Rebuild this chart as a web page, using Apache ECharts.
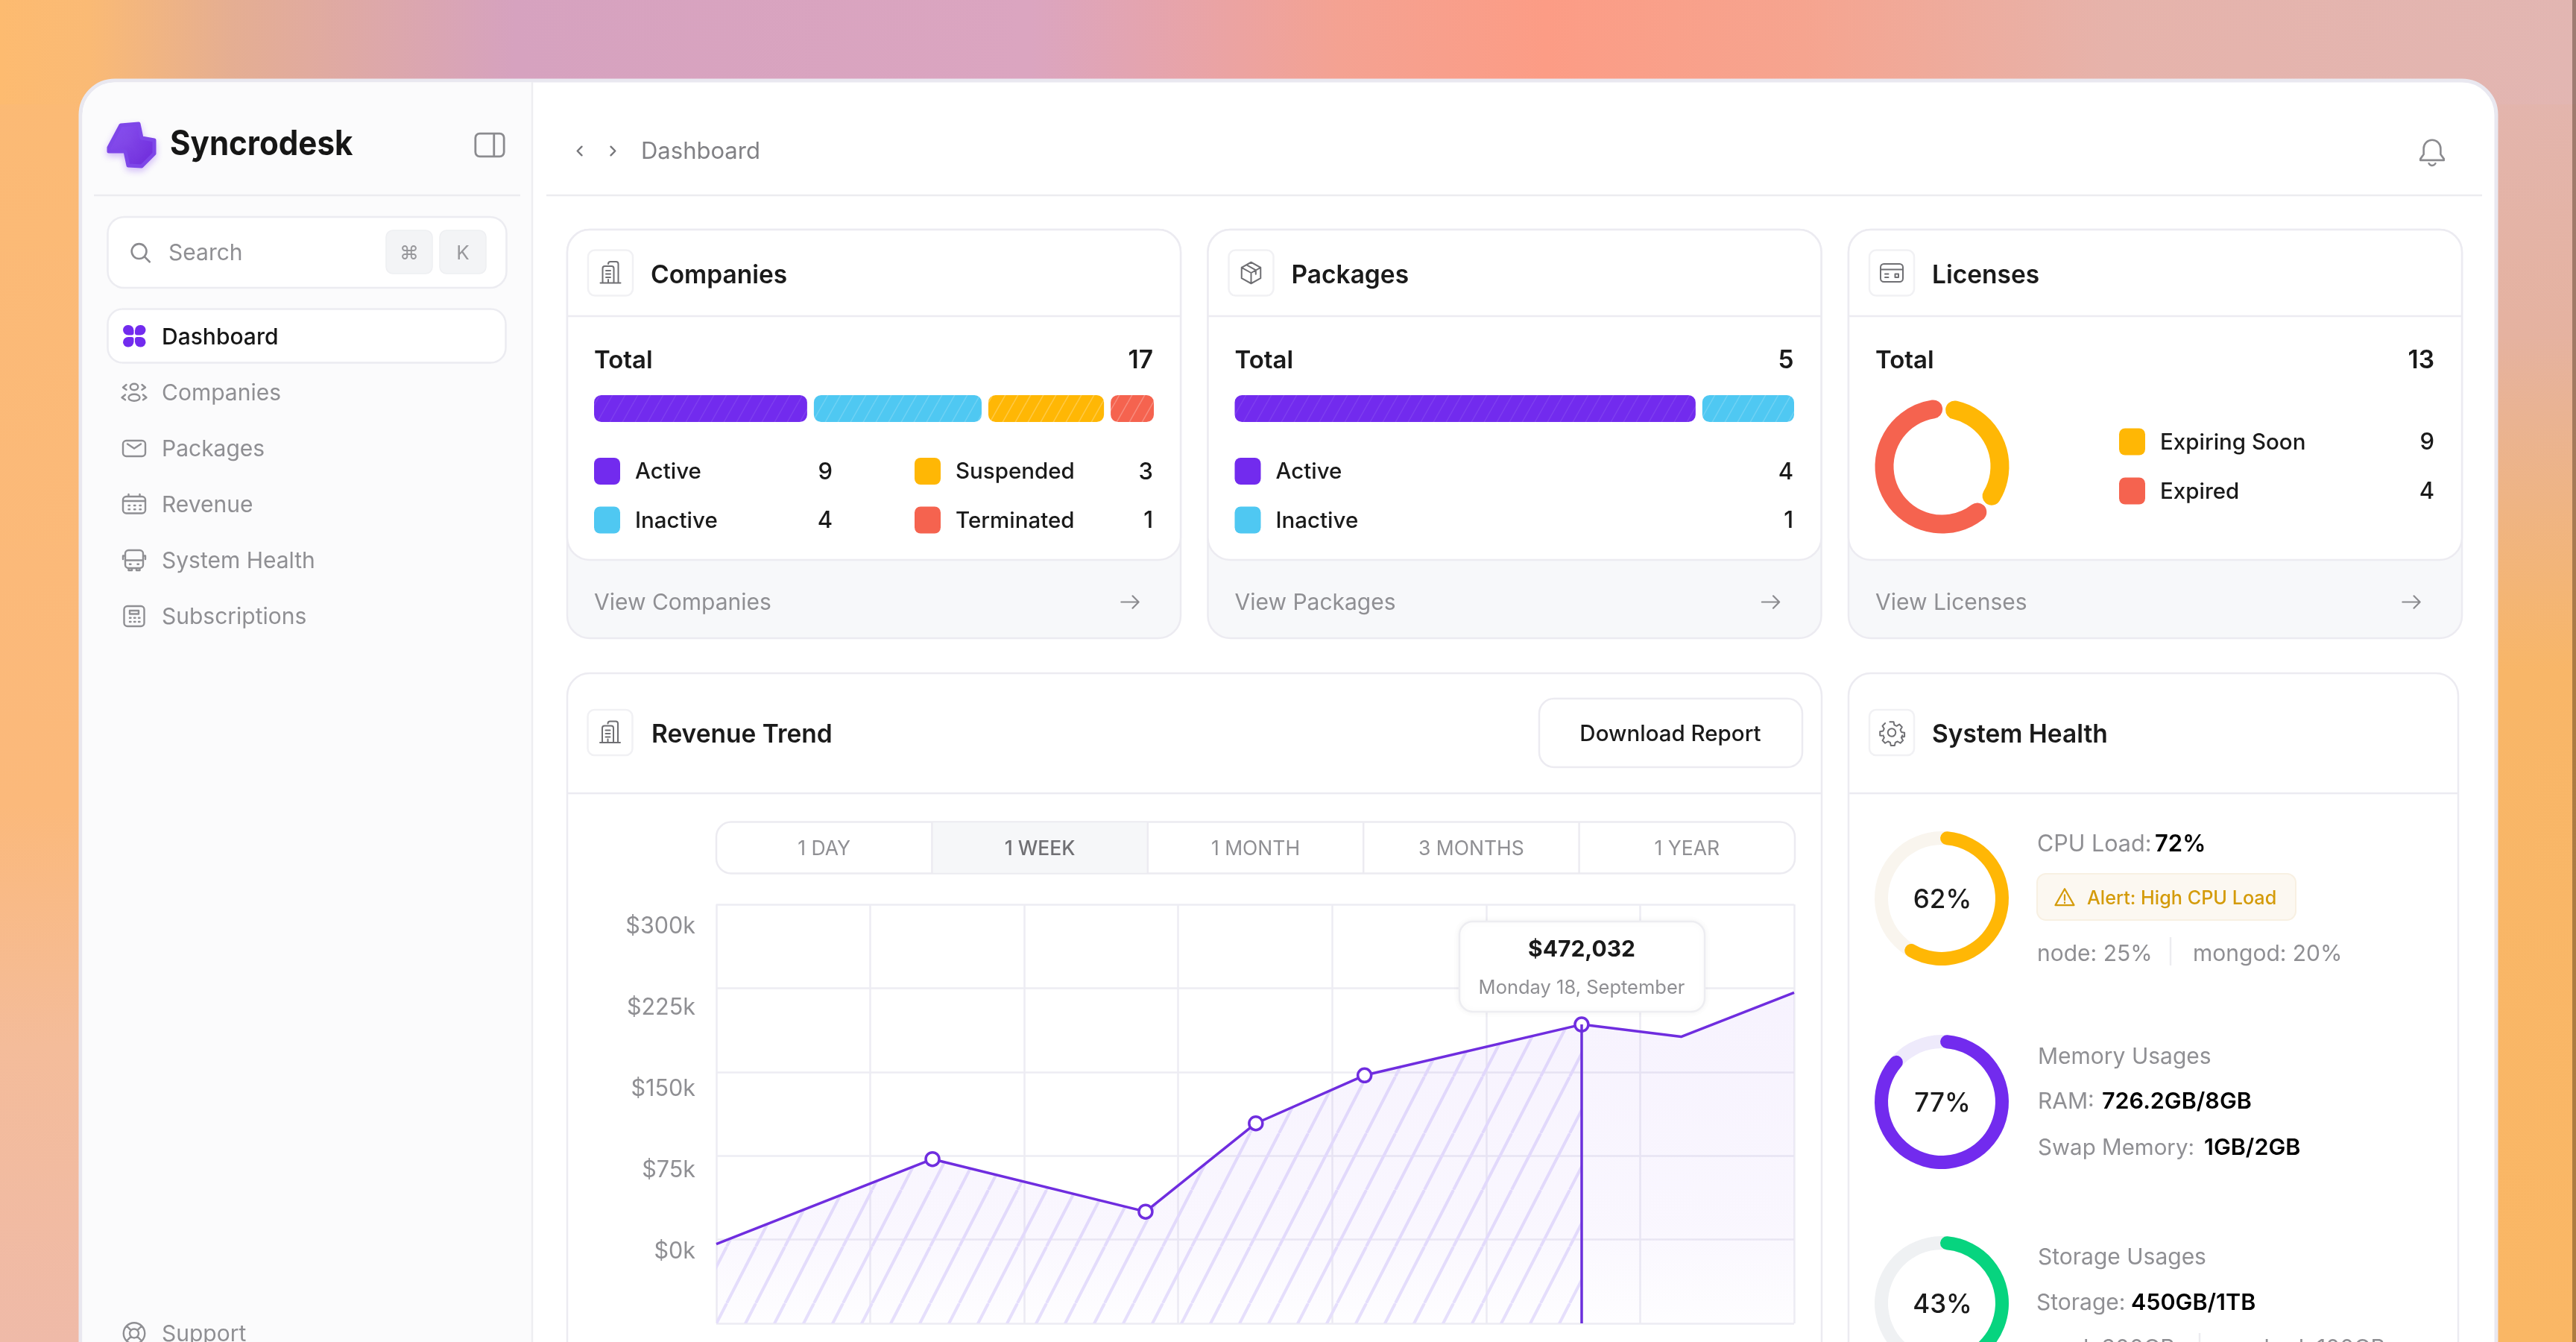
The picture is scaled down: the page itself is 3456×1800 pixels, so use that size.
<!DOCTYPE html>
<html lang="en">
<head>
    <meta charset="UTF-8">
    <title>Syncrodesk</title>
    <style>
        html, body { margin: 0; padding: 0; background: #fff; overflow: hidden; }
        #main { width: 3456px; height: 1800px; }
    </style>
    <script src="https://cdn.jsdelivr.net/npm/echarts@6/dist/echarts.min.js"></script>
</head>
<body>
    <div id="main"></div>
    <script>
    // sidebar and header
    var navItems = ['Dashboard', 'Companies', 'Packages', 'Revenue', 'System Health', 'Subscriptions'];
    var tabLabels = ['1 DAY', '1 WEEK', '1 MONTH', '3 MONTHS', '1 YEAR'];

    // cards
    var companyCats = ['Active', 'Inactive', 'Suspended', 'Terminated'];
    var companyCounts = [9, 4, 3, 1];
    var companyBar = [38.8, 30.8, 21.6, 8.8];   // widths as drawn, in % of the track
    var packageCats = ['Active', 'Inactive'];
    var packageCounts = [4, 1];
    var packageBar = [82.6, 17.4];
    var licenseCats = ['Expiring Soon', 'Expired'];
    var licenseCounts = [9, 4];
    var licenseArc = [36, 64];

    // revenue chart
    var yTickLabels = ['$0k', '$75k', '$150k', '$225k', '$300k'];
    var revenueX = [0, 1.404, 2.788, 3.504, 4.21, 5.62, 6.266, 7];
    var revenueY = [-4, 72, 25, 104, 147, 192.5, 181.5, 221];
    var revenueMarked = [0, 1, 1, 1, 1, 1, 0, 0];
    var hatchUntil = 6;

    // system health gauges, arcs as drawn
    var gaugeLabels = ['62%', '77%', '43%'];
    var gaugeArcs = [57, 85, 43];

    var PURPLE = '#722BEE', CYAN = '#4FC8F2', YELLOW = '#FFB705', RED = '#F5634F', GREEN = '#07D47F';
    var INK = '#1a1a1a', GRAY = '#8f8f93', LINE = '#ECEBF1';
    var FONT = "Inter, 'DejaVu Sans', sans-serif";

    var icons = {
        search: 'M11 4a7 7 0 1 0 0 14a7 7 0 1 0 0-14M16.2 16.2L21 21',
        panel: 'M5 4h14a3 3 0 0 1 3 3v10a3 3 0 0 1-3 3H5a3 3 0 0 1-3-3V7a3 3 0 0 1 3-3zM15 4v16',
        users: 'M8.5 7a3.5 2.8 0 1 0 7 0a3.5 2.8 0 1 0-7 0M7 16.5a5 3 0 1 0 10 0a5 3 0 1 0-10 0M5 5L2 7.5L5 9.5M19 5L22 7.5L19 9.5M4 14L1 16.5L4 18.5M20 14L23 16.5L20 18.5',
        mail: 'M5 5h14a3 3 0 0 1 3 3v8a3 3 0 0 1-3 3H5a3 3 0 0 1-3-3V8a3 3 0 0 1 3-3zM6 8l6 4l6-4',
        calendar: 'M5 5h14a3 3 0 0 1 3 3v9a3 3 0 0 1-3 3H5a3 3 0 0 1-3-3V8a3 3 0 0 1 3-3zM2 9h20M7 3v2M17 3v2M7 13h1M12 13h1M17 13h1M7 16.5h1M12 16.5h1M17 16.5h1',
        bus: 'M7 3h10a3 3 0 0 1 3 3v10a3 3 0 0 1-3 3H7a3 3 0 0 1-3-3V6a3 3 0 0 1 3-3zM4 12h16M4 8H2v3M20 8h2v3M7 19v2h3v-2M14 19v2h3v-2M8 15.5h1M15 15.5h1',
        calc: 'M6 3h12a3 3 0 0 1 3 3v12a3 3 0 0 1-3 3H6a3 3 0 0 1-3-3V6a3 3 0 0 1 3-3zM8 7h8v3H8zM8 13.5h1M12 13.5h1M16 13.5h1M8 17h1M12 17h1M16 17h1',
        support: 'M12 2.5a9.5 9.5 0 1 0 .01 0zM12 8a4 4 0 1 0 .01 0zM5.5 5.5l3.7 3.7M18.5 5.5l-3.7 3.7M5.5 18.5l3.7-3.7M18.5 18.5l-3.7-3.7',
        building: 'M3 21h18M5 21V8a2 2 0 0 1 2-2h6a2 2 0 0 1 2 2v13M10 4a2 2 0 0 1 2-2h5a2 2 0 0 1 2 2v17M8 10h4M8 13h4M8 16h4M10 21v-3',
        box: 'M12 2.5l8.5 4.7v9.6L12 21.5l-8.5-4.7V7.2zM3.5 7.2l8.5 4.8l8.5-4.8M12 12v9.5M7.7 4.8l8.5 4.8v3.5',
        card: 'M5 4h14a3 3 0 0 1 3 3v10a3 3 0 0 1-3 3H5a3 3 0 0 1-3-3V7a3 3 0 0 1 3-3zM2 9h20M6 13h3M6 16h3M15 13h3v3h-3z',
        gear: 'M10.3 2.5h3.4l.6 2.8l2 .9l2.5-1.5l2.4 2.4l-1.5 2.5l.9 2l2.8.6v3.4l-2.8.6M12 8.5a3.5 3.5 0 1 0 .01 0zM3.1 14.9l-1.6-.3v-3.4l2.8-.6l.9-2l-1.5-2.5l2.4-2.4M21.5 14.6l-.9 2l1.5 2.5l-2.4 2.4l-2.5-1.5l-2 .9l-.6 2.8h-3.4l-.6-2.8l-2-.9l-2.5 1.5l-2.4-2.4l1.5-2.5l-.9-2',
        bell: 'M12 3a6.5 6.5 0 0 0-6.5 6.5v4.5L3 17.5v1h18v-1L18.5 14V9.5A6.5 6.5 0 0 0 12 3zM9.5 21a2.8 2.8 0 0 0 5 0',
        warn: 'M12 3L22 20.5H2zM12 9.5v5.5M12 17.5v.6',
        left: 'M15 5l-7 7l7 7',
        right: 'M9 5l7 7l-7 7',
        arrow: 'M2 12h20M15 5l7 7l-7 7'
    };
    Object.keys(icons).forEach(function (k) {
        echarts.graphic.registerShape('ic_' + k, echarts.graphic.extendPath(icons[k], {}));
    });

    // striped tile used as a fill, w/h give the slope of the stripes
    function hatch(base, stripe, w, h, lw) {
        var c = document.createElement('canvas');
        c.width = w;
        c.height = h;
        var ctx = c.getContext('2d');
        if (base) {
            ctx.fillStyle = base;
            ctx.fillRect(0, 0, w, h);
        }
        ctx.strokeStyle = stripe;
        ctx.lineWidth = lw;
        [-w, 0, w].forEach(function (dx) {
            ctx.beginPath();
            ctx.moveTo(dx, h);
            ctx.lineTo(dx + w, 0);
            ctx.stroke();
        });
        return { image: c, repeat: 'repeat' };
    }

    function vgrad(stops) {
        return { type: 'linear', x: 0, y: 0, x2: 0, y2: 1, colorStops: stops };
    }
    function hgrad(stops) {
        return { type: 'linear', x: 0, y: 0, x2: 1, y2: 0, colorStops: stops };
    }

    var els = [];

    function box(x, y, w, h, r, fill, stroke, lw, z) {
        els.push({
            type: 'rect', z: z || -5, silent: true,
            shape: { x: x, y: y, width: w, height: h, r: r },
            style: { fill: fill, stroke: stroke || null, lineWidth: lw || 0 }
        });
    }
    function line(x1, y1, x2, y2, color, lw, z) {
        els.push({
            type: 'line', z: z || -4, silent: true,
            shape: { x1: x1, y1: y1, x2: x2, y2: y2 },
            style: { stroke: color || LINE, lineWidth: lw || 2.5 }
        });
    }
    function text(x, y, str, size, weight, color, align, z) {
        els.push({
            type: 'text', z: z || -3, silent: true,
            style: {
                text: str, x: x, y: y + 3, fill: color || INK,
                font: (weight || 400) + ' ' + size + 'px ' + FONT,
                textAlign: align || 'left', textVerticalAlign: 'middle', verticalAlign: 'middle'
            }
        });
    }
    function icon(name, cx, cy, size, color, lw) {
        var s = size / 24;
        els.push({
            type: 'ic_' + name, z: -3, silent: true, shape: {},
            x: cx - size / 2, y: cy - size / 2 + 1.5, scaleX: s, scaleY: s,
            style: { fill: 'none', stroke: color || '#8b8b8f', lineWidth: (lw || 2.6) / s, lineCap: 'round', lineJoin: 'round' }
        });
    }

    // ---- backdrop ----
    box(0, 0, 3456, 1800, 0, '#FBB878', null, 0, -20);
    box(0, 0, 140, 1800, 0, vgrad([
        { offset: 0, color: '#FBBA74' }, { offset: 0.6, color: '#FBB97B' },
        { offset: 0.78, color: '#F4BC9A' }, { offset: 1, color: '#EFBAA8' }
    ]), null, 0, -19);
    box(3300, 0, 156, 1800, 0, vgrad([
        { offset: 0, color: '#E2B6B2' }, { offset: 0.25, color: '#E5B2A0' },
        { offset: 0.5, color: '#F8B668' }, { offset: 1, color: '#FAB765' }
    ]), null, 0, -19);
    box(0, 0, 3456, 140, 0, hgrad([
        { offset: 0, color: '#FDBB70' }, { offset: 0.035, color: '#FABA75' }, { offset: 0.09, color: '#E5AE92' },
        { offset: 0.2, color: '#D6A2BF' }, { offset: 0.4, color: '#DBA5C0' },
        { offset: 0.52, color: '#F4A292' }, { offset: 0.6, color: '#FC9C85' },
        { offset: 0.7, color: '#F6A48F' }, { offset: 0.82, color: '#E6B3AB' },
        { offset: 1, color: '#E2B6B2' }
    ]), null, 0, -18);
    box(3451, 0, 5, 1800, 0, 'rgba(40,20,0,0.36)', null, 0, -17);

    // ---- window ----
    box(108, 108, 3241, 1800, 46, '#fff', '#E9E8F0', 5, -10);
    els.push({
        type: 'rect', z: -9, silent: true,
        shape: { x: 110.5, y: 110.5, width: 603, height: 1800, r: [44, 0, 0, 0] },
        style: { fill: '#FBFBFC' }
    });
    line(714, 110, 714, 1800, '#EEEEF1', 2.5, -8);

    // ---- sidebar ----
    els.push({
        type: 'polygon', z: -4, silent: true,
        shape: { points: [[146, 198], [162, 168], [186, 166], [190, 185], [207, 188], [207, 206], [190, 223], [172, 222], [168, 203], [146, 203]] },
        style: {
            fill: { type: 'linear', x: 0, y: 0, x2: 1, y2: 1, colorStops: [{ offset: 0, color: '#8F5CF2' }, { offset: 1, color: '#6C27D8' }] },
            stroke: '#7E46E8', lineWidth: 5, lineJoin: 'round', shadowBlur: 10, shadowColor: 'rgba(114,43,238,0.25)', shadowOffsetY: 4
        }
    });
    // logo word is a touch narrower than Inter at this height
    els.push({
        type: 'text', z: -3, silent: true, x: 228, y: 194, scaleX: 0.915,
        style: {
            text: 'Syncrodesk', x: 0, y: 0, fill: '#161616', font: '700 46px ' + FONT,
            textAlign: 'left', textVerticalAlign: 'middle', verticalAlign: 'middle'
        }
    });
    icon('panel', 657, 193, 46, '#8b8b8f', 2.8);
    line(126, 262, 698, 262, '#ECECF0', 2.5);

    box(144.5, 291, 535, 95, 22, '#fff', '#ECECF1', 2.5);
    icon('search', 188, 337, 34, '#8b8b8f', 2.6);
    text(226, 337, 'Search', 30, 400, GRAY);
    box(518, 309, 62, 58, 9, '#F3F4F6', '#EEEFF2', 1.5);
    box(590, 309, 62, 58, 9, '#F3F4F6', '#EEEFF2', 1.5);
    text(549, 337, '⌘', 26, 400, '#98989c', 'center');
    text(621, 337, 'K', 26, 400, '#98989c', 'center');

    box(144.5, 414.5, 534, 72, 20, '#fff', '#ECECF1', 2.5);
    [[165, 436], [181, 436], [165, 452], [181, 452]].forEach(function (p, i) {
        var rr = [[8, 8, 3, 8], [8, 8, 8, 3], [8, 3, 8, 8], [3, 8, 8, 8]][i];
        els.push({
            type: 'rect', z: -3, silent: true,
            shape: { x: p[0], y: p[1], width: 14.5, height: 13.5, r: rr },
            style: { fill: PURPLE }
        });
    });
    var navIcons = [null, 'users', 'mail', 'calendar', 'bus', 'calc'];
    navItems.forEach(function (name, i) {
        var y = 450 + i * 75;
        text(217, y, name, 30, i === 0 ? 500 : 400, i === 0 ? '#161616' : GRAY);
        if (navIcons[i]) {
            icon(navIcons[i], 180, y, 36, '#8f8f93', 2.4);
        }
    });
    icon('support', 180, 1787, 36, '#8f8f93', 2.4);
    text(217, 1787, 'Support', 30, 400, GRAY);

    // ---- header ----
    icon('left', 778, 201, 20, '#77777b', 2.4);
    icon('right', 822, 201, 20, '#77777b', 2.4);
    text(860, 201, 'Dashboard', 31, 400, '#818185');
    icon('bell', 3263, 202, 42, '#8b8b8f', 2.6);
    line(733, 262, 3330, 262, '#ECECF0', 2.5);

    // ---- top cards ----
    function iconBox(x, y, name) {
        box(x, y, 60, 61, 9, '#fff', '#F1F1F4', 2.5, -4);
        icon(name, x + 30, y + 29, 36, '#6f6f73', 2);
    }
    function legendRow(x, y, color, name, count, right) {
        box(x, y - 16.5, 35, 36, 8, color, null, 0, -4);
        text(x + 55, y, name, 29.5, 500, INK);
        text(right, y, String(count), 31, 500, INK, 'right');
    }
    function card(x, title, iconName, total, viewLabel) {
        box(x, 308, 823, 548, 30, '#F7F8FA', LINE, 2.5, -7);
        box(x, 308, 823, 443, 30, '#fff', LINE, 2.5, -6);
        line(x, 424, x + 823, 424, LINE, 2.5, -5);
        iconBox(x + 28, 335.5, iconName);
        text(x + 112, 367, title, 33.5, 600, INK);
        text(x + 36, 481, 'Total', 33, 600, INK);
        text(x + 786, 481, String(total), 33.5, 600, INK, 'right');
        text(x + 36, 806, viewLabel, 30, 400, GRAY);
        icon('arrow', x + 755, 806, 28, '#8b8b8f', 2.2);
    }
    card(761, 'Companies', 'building', 17, 'View Companies');
    card(1620.5, 'Packages', 'box', 5, 'View Packages');
    card(2480, 'Licenses', 'card', 13, 'View Licenses');

    var companyColors = [PURPLE, CYAN, YELLOW, RED];
    legendRow(797, 630.5, companyColors[0], companyCats[0], companyCounts[0], 1117);
    legendRow(797, 696, companyColors[1], companyCats[1], companyCounts[1], 1117);
    legendRow(1227, 630.5, companyColors[2], companyCats[2], companyCounts[2], 1547);
    legendRow(1227, 696, companyColors[3], companyCats[3], companyCounts[3], 1547);
    legendRow(1656.5, 630.5, companyColors[0], packageCats[0], packageCounts[0], 2406);
    legendRow(1656.5, 696, companyColors[1], packageCats[1], packageCounts[1], 2406);
    legendRow(2843, 591, YELLOW, licenseCats[0], licenseCounts[0], 3266);
    legendRow(2843, 657, RED, licenseCats[1], licenseCounts[1], 3266);

    // ---- revenue panel ----
    box(761, 903, 1683, 1000, 30, '#fff', LINE, 2.5, -7);
    line(761, 1064, 2444, 1064, LINE, 2.5, -5);
    iconBox(788.5, 952, 'building');
    text(874, 983, 'Revenue Trend', 33.5, 600, INK);
    box(2065, 937, 353, 92, 20, '#fff', LINE, 2.5, -4);
    text(2241, 982, 'Download Report', 29.5, 500, INK, 'center');

    var tabX = 961, tabW = 289.4;
    box(tabX, 1102.5, tabW * 5, 69, 20, '#fff', LINE, 2.5, -4);
    box(tabX + tabW, 1103.5, tabW, 67, 0, '#F6F7F9', null, 0, -4);
    tabLabels.forEach(function (name, i) {
        if (i > 0) {
            line(tabX + tabW * i, 1102.5, tabX + tabW * i, 1171.5, LINE, 2.5, -3);
        }
        text(tabX + tabW * (i + 0.5), 1136, name, 26.5, i === 1 ? 500 : 400, i === 1 ? '#6f6f73' : GRAY, 'center');
    });

    // tooltip card sits over the series
    box(1958, 1236, 329, 121, 18, '#fff', '#EDEDF1', 2.5, 50);
    els[els.length - 1].style.shadowBlur = 10;
    els[els.length - 1].style.shadowColor = 'rgba(30,20,60,0.05)';
    text(2122, 1270.5, '$472,032', 30, 700, INK, 'center', 51);
    text(2122, 1322.5, 'Monday 18, September', 25.5, 400, GRAY, 'center', 51);

    // ---- system health panel ----
    box(2480, 903, 818, 1000, 30, '#fff', LINE, 2.5, -7);
    line(2480, 1064, 3298, 1064, LINE, 2.5, -5);
    iconBox(2508, 952, 'gear');
    text(2592, 983, 'System Health', 33.5, 600, INK);

    var LBL = 30;
    text(2733, 1130, 'CPU Load:', 30.5, 400, GRAY);
    text(2891, 1130, '72%', 31, 600, '#000');
    box(2733, 1172, 347, 62, 12, '#FCF8F1', '#F8F0E2', 2, -4);
    icon('warn', 2770, 1202, 30, '#D49B0A', 2.2);
    text(2800, 1202, 'Alert: High CPU Load', 25.2, 500, '#D49B0A');
    text(2733, 1277, 'node: 25%', LBL, 400, GRAY);
    line(2912, 1257, 2912, 1295, '#ECECF0', 2.5);
    text(2942, 1277, 'mongod: 20%', LBL, 400, GRAY);

    text(2734, 1415, 'Memory Usages', LBL, 400, GRAY);
    text(2734, 1475, 'RAM:', LBL, 400, GRAY);
    text(2820, 1475, '726.2GB/8GB', 30.5, 600, '#000');
    text(2734, 1537, 'Swap Memory:', 29.5, 400, GRAY);
    text(2957, 1537, '1GB/2GB', 30.5, 600, '#000');

    text(2734, 1684, 'Storage Usages', LBL, 400, GRAY);
    text(2732, 1745, 'Storage:', LBL, 400, GRAY);
    text(2859, 1745, '450GB/1TB', 30.5, 600, '#000');
    text(2733, 1806, 'used: 300GB', LBL, 400, GRAY);
    line(2951, 1788, 2951, 1800, '#ECECF0', 2.5);
    text(2986, 1806, 'cached: 100GB', LBL, 400, GRAY);

    // ---- series ----
    function stackBars(values, colors, stripes, gridIndex, stackName) {
        return values.map(function (v, i) {
            return {
                type: 'bar', stack: stackName, xAxisIndex: gridIndex, yAxisIndex: gridIndex,
                barWidth: 45, silent: true,
                itemStyle: { color: hatch(colors[i], stripes[i], 17, 30, 1.6), borderColor: '#fff', borderWidth: 4.5, borderRadius: 12 },
                data: [v]
            };
        });
    }
    var stripeWhites = ['rgba(255,255,255,0.09)', 'rgba(255,255,255,0.18)', 'rgba(255,255,255,0.26)', 'rgba(255,255,255,0.26)'];

    function gauge(cy, value, label, color, track) {
        return {
            type: 'gauge', center: [2605, cy], radius: 90, startAngle: 85, endAngle: -275, min: 0, max: 100,
            silent: true,
            pointer: { show: false }, axisTick: { show: false }, splitLine: { show: false }, axisLabel: { show: false },
            axisLine: { lineStyle: { width: 18, color: [[1, track]] } },
            progress: { show: true, width: 18, roundCap: true, itemStyle: { color: color } },
            title: { show: false },
            detail: {
                offsetCenter: [1, 2], formatter: function () { return label; },
                fontFamily: FONT, fontSize: 35, fontWeight: 500, color: INK
            },
            data: [{ value: value }]
        };
    }

    var points = revenueX.map(function (x, i) { return [x, revenueY[i]]; });
    var gridLine = { show: true, lineStyle: { color: '#EDECF3', width: 2.5 } };

    var option = {
        animation: false,
        backgroundColor: 'transparent',
        textStyle: { fontFamily: FONT },
        graphic: { elements: els },
        grid: [
            { left: 792.5, top: 525.5, width: 760, height: 45 },
            { left: 1652, top: 525.5, width: 759.5, height: 45 },
            { left: 961, top: 1213, width: 1446, height: 562 },
            { left: 961, top: 1243, width: 1446, height: 436 }
        ],
        xAxis: [
            { gridIndex: 0, type: 'value', min: 0, max: 100, show: false },
            { gridIndex: 1, type: 'value', min: 0, max: 100, show: false },
            {
                gridIndex: 2, type: 'value', min: 0, max: 7, interval: 1,
                axisLine: { show: false }, axisTick: { show: false }, axisLabel: { show: false }, splitLine: gridLine
            },
            { gridIndex: 3, type: 'value', min: 0, max: 1, show: false }
        ],
        yAxis: [
            { gridIndex: 0, type: 'category', data: ['Companies'], show: false },
            { gridIndex: 1, type: 'category', data: ['Packages'], show: false },
            {
                gridIndex: 2, type: 'value', min: -75, max: 300, interval: 75,
                axisLine: { show: false }, axisTick: { show: false }, axisLabel: { show: false }, splitLine: gridLine
            },
            {
                gridIndex: 3, type: 'category', data: yTickLabels, boundaryGap: false,
                axisLine: { show: false }, axisTick: { show: false }, splitLine: { show: false },
                axisLabel: { interval: 0, margin: 28, fontFamily: FONT, fontSize: 30.5, color: '#8f8f93' }
            }
        ],
        series: [].concat(
            stackBars(companyBar, companyColors, stripeWhites, 0, 'companies'),
            stackBars(packageBar, companyColors, stripeWhites, 1, 'packages'),
            [
                {
                    name: 'hatch', type: 'line', xAxisIndex: 2, yAxisIndex: 2, z: 2, silent: true,
                    symbol: 'none', lineStyle: { width: 0 },
                    areaStyle: { origin: 'start', color: hatch(null, '#E7E1FC', 39, 76, 4), opacity: 1 },
                    data: points.slice(0, hatchUntil),
                    markLine: {
                        silent: true, symbol: 'none', label: { show: false },
                        lineStyle: { color: '#6B2FDB', width: 3.5, type: 'solid' },
                        data: [[
                            { coord: points[hatchUntil - 1] },
                            { coord: [points[hatchUntil - 1][0], -75] }
                        ]]
                    }
                },
                {
                    name: 'Revenue', type: 'line', xAxisIndex: 2, yAxisIndex: 2, z: 3, silent: true,
                    symbol: 'circle', showAllSymbol: true,
                    symbolSize: function (v, p) { return revenueMarked[p.dataIndex] ? 18 : 0; },
                    lineStyle: { color: '#6F2DDF', width: 3.5 },
                    itemStyle: { color: '#fff', borderColor: '#6F2DDF', borderWidth: 3.5 },
                    areaStyle: {
                        origin: 'start', opacity: 1,
                        color: vgrad([{ offset: 0, color: 'rgba(114,43,238,0.06)' }, { offset: 0.7, color: 'rgba(114,43,238,0.04)' }, { offset: 1, color: 'rgba(114,43,238,0.008)' }])
                    },
                    data: points
                },
                {
                    type: 'pie', center: [2605.5, 625.5], radius: [65, 90], startAngle: 88, padAngle: 3, silent: true,
                    label: { show: false }, labelLine: { show: false },
                    itemStyle: { borderRadius: 13 },
                    data: [
                        { name: licenseCats[0], value: licenseArc[0], itemStyle: { color: YELLOW } },
                        { name: licenseCats[1], value: licenseArc[1], itemStyle: { color: RED } }
                    ]
                },
                gauge(1205, gaugeArcs[0], gaugeLabels[0], YELLOW, '#F9F5EE'),
                gauge(1478, gaugeArcs[1], gaugeLabels[1], PURPLE, '#EEEAFB'),
                gauge(1748, gaugeArcs[2], gaugeLabels[2], GREEN, '#EFF1F3')
            ]
        )
    };

    var myChart = echarts.init(document.getElementById('main'));
    myChart.setOption(option);
    </script>
</body>
</html>
